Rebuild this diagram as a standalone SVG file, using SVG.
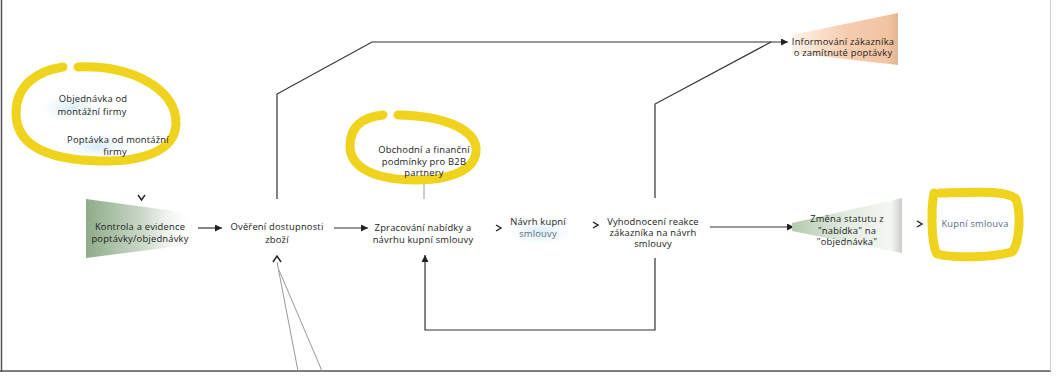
<svg xmlns="http://www.w3.org/2000/svg" width="1056" height="376" viewBox="0 0 1056 376">
<defs>
<style>
.t{font-family:"Open Sans","Liberation Sans",sans-serif;font-size:9.4px;fill:#222;text-anchor:middle;letter-spacing:0.2px}
.tb{fill:#5a6f86}
.ln{fill:none;stroke:#333;stroke-width:1.2}
.gl{fill:none;stroke:#9a9a9a;stroke-width:1}
.ch{fill:none;stroke:#222;stroke-width:1.4;stroke-linejoin:miter}
.hl{fill:none;stroke:#efd31c;stroke-width:9;stroke-linecap:round;stroke-linejoin:round}
</style>
<marker id="ah" viewBox="0 0 10 10" refX="10" refY="5" markerWidth="7" markerHeight="7" markerUnits="userSpaceOnUse" orient="auto">
<path d="M0,0 L10,5 L0,10 z" fill="#222"/>
</marker>
<linearGradient id="gGreen" x1="0" y1="0" x2="1" y2="0">
<stop offset="0" stop-color="#8eab89"/>
<stop offset="0.55" stop-color="#cfdccd"/>
<stop offset="1" stop-color="#ffffff" stop-opacity="0"/>
</linearGradient>
<linearGradient id="gGreen2" x1="0" y1="0" x2="1" y2="0">
<stop offset="0" stop-color="#b4cbb0"/>
<stop offset="0.5" stop-color="#e3ebe1"/>
<stop offset="0.9" stop-color="#f5f7f4"/>
<stop offset="1" stop-color="#c9cfc8"/>
</linearGradient>
<linearGradient id="gOrange" x1="0" y1="0" x2="1" y2="0">
<stop offset="0" stop-color="#fff3ea"/>
<stop offset="0.5" stop-color="#f6cdb0"/>
<stop offset="0.9" stop-color="#f1c4a2"/>
<stop offset="1" stop-color="#e3b592"/>
</linearGradient>
<radialGradient id="gBlue">
<stop offset="0" stop-color="#d7ecf6"/>
<stop offset="1" stop-color="#eef7fb" stop-opacity="0"/>
</radialGradient>
</defs>
<rect width="1056" height="376" fill="#ffffff"/>
<g id="frame">
<line x1="1.5" y1="0" x2="1.5" y2="372" stroke="#555" stroke-width="1.5"/>
<line x1="0" y1="371" x2="1051" y2="371" stroke="#555" stroke-width="1.5"/>
<line x1="1050.5" y1="0" x2="1050.5" y2="371" stroke="#d0d0d0" stroke-width="1"/>
</g>
<g id="connectors">
<path class="ln" d="M198,228 L222,228" marker-end="url(#ah)"/>
<path class="ln" d="M334,228 L368,228" marker-end="url(#ah)"/>
<path class="ln" d="M277,199 L277,94 L372,42 L788,42" marker-end="url(#ah)"/>
<path class="ln" d="M655,198 L655,104 L771,42"/>
<path class="ln" d="M655,258 L655,330 L425,330 L425,255" marker-end="url(#ah)"/>
<path class="ln" d="M710,227 L794,227" marker-end="url(#ah)"/>
<path class="gl" d="M424,181 L424,199"/>
<path class="gl" d="M277,262 L298,371"/>
<path class="gl" d="M279,270 L322,371"/>
<path class="ch" d="M138,195 L141.5,200 L145,195"/>
<path class="ch" d="M273,262 L277,256 L281,262"/>
<path class="ch" d="M496,225 L501,228 L496,231"/>
<path class="ch" d="M593,222 L598,225 L593,228"/>
<path class="ch" d="M917,221 L922,224 L917,227"/>
</g>
<g id="n-inputs">
<ellipse cx="72" cy="108" rx="34" ry="13" fill="url(#gBlue)"/>
<ellipse cx="98" cy="146" rx="36" ry="14" fill="url(#gBlue)"/>
<path class="hl" d="M78,67 C130,65 177,88 176,124 C175,152 140,162 100,161 C55,160 16,149 16,113 C16,86 36,71 63,67"/>
<text class="t" x="93" y="102">Objednávka od</text>
<text class="t" x="92" y="115">montážní firmy</text>
<text class="t" x="118" y="143">Poptávka od montážní</text>
<text class="t" x="115" y="155">firmy</text>
</g>
<g id="n-kontrola">
<polygon points="86,199 196,214 196,244 86,258" fill="url(#gGreen)"/>
<text class="t" x="140" y="230">Kontrola a evidence</text>
<text class="t" x="140" y="242">poptávky/objednávky</text>
</g>
<g id="n-overeni">
<text class="t" x="277" y="230">Ověření dostupnosti</text>
<text class="t" x="277" y="243">zboží</text>
</g>
<g id="n-podminky">
<path class="hl" d="M398,115 C450,116 478,132 476,152 C474,172 445,181 412,180 C375,179 350,168 350,146 C350,127 362,117 383,115"/>
<text class="t" x="424" y="153">Obchodní a finanční</text>
<text class="t" x="424" y="165">podmínky pro B2B</text>
<text class="t" x="424" y="176">partnery</text>
</g>
<g id="n-zpracovani">
<text class="t" x="423" y="231">Zpracování nabídky a</text>
<text class="t" x="423" y="243">návrhu kupní smlouvy</text>
</g>
<g id="n-navrh">
<ellipse cx="540" cy="232" rx="34" ry="14" fill="url(#gBlue)"/>
<text class="t" x="538" y="225">Návrh kupní</text>
<text class="t tb" x="538" y="237">smlouvy</text>
</g>
<g id="n-vyhodnoceni">
<text class="t" x="653" y="225">Vyhodnocení reakce</text>
<text class="t" x="653" y="236">zákazníka na návrh</text>
<text class="t" x="653" y="247">smlouvy</text>
</g>
<g id="n-zmena">
<polygon points="792,223 902,198 902,253 792,231" fill="url(#gGreen2)"/>
<text class="t" x="847" y="222">Změna statutu z</text>
<text class="t" x="847" y="234">"nabídka"  na</text>
<text class="t" x="847" y="245">"objednávka"</text>
</g>
<g id="n-kupni">
<path class="hl" d="M940,193 C975,192 1008,190 1016,199 C1021,212 1020,243 1012,252 C990,258 952,258 937,254 C931,244 931,206 934,193"/>
<text class="t tb" x="975" y="227">Kupní smlouva</text>
</g>
<g id="n-informovani">
<polygon points="792,35 898,13 898,65 792,53" fill="url(#gOrange)"/>
<text class="t" x="843" y="45">Informování zákazníka</text>
<text class="t" x="843" y="56">o zamítnuté poptávky</text>
</g>
</svg>
